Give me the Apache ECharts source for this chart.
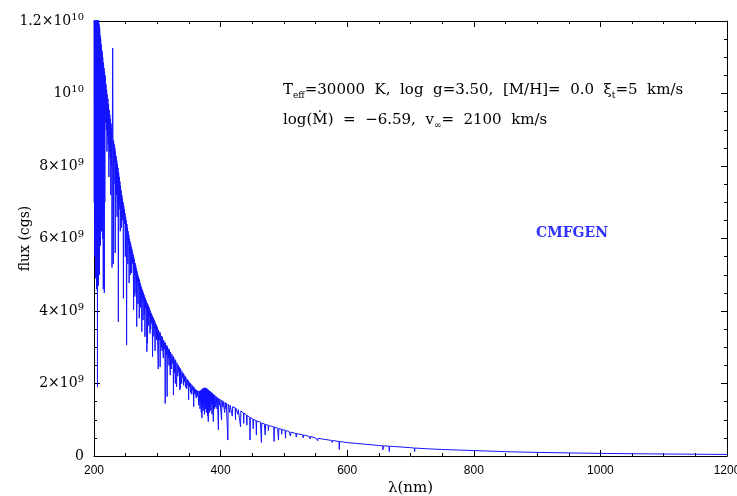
<!DOCTYPE html>
<html>
<head>
<meta charset="utf-8">
<script src="https://cdn.jsdelivr.net/npm/echarts@6/dist/echarts.min.js"></script>
<style>
  html, body { margin: 0; padding: 0; background: #fff; }
  #chart { width: 737px; height: 496px; }
</style>
</head>
<body>
<div id="chart"></div>
<script>
// spectrum: [wavelength nm, flux in 1e9 cgs]
const uvSpectrum = [
  [200.0, 13.2], [200.4, 7.0], [200.8, 12.8], [201.2, 5.5], [201.6, 13.0], [202.0, 6.5], [202.4, 12.9],
  [202.6, 4.9], [202.9, 12.8], [203.3, 6.0], [203.7, 12.7], [204.0, 4.6], [204.4, 12.6], [204.8, 6.8],
  [205.2, 12.5], [205.5, 1.9], [205.8, 12.4], [206.2, 5.8], [206.6, 12.2], [207.0, 4.7], [207.4, 12.1],
  [207.8, 6.2], [208.2, 11.9], [208.6, 5.0], [209.0, 11.8], [209.4, 6.5], [209.8, 11.6], [210.2, 5.8],
  [210.6, 11.5], [211.0, 6.8], [211.4, 11.35], [211.8, 6.2], [212.2, 11.2], [212.6, 7.0], [213.0, 11.15],
  [213.4, 6.0], [213.8, 11.0], [214.2, 6.9], [214.7, 4.6], [215.1, 10.85], [215.5, 6.5], [215.9, 10.7],
  [216.3, 4.5], [216.7, 10.6], [217.1, 7.0], [217.5, 10.5],
  [218, 10.4], [218.5, 9.2], [219, 10.25], [219.5, 9.0], [220, 10.1], [220.5, 8.4], [221, 9.97], [221.5, 8.8],
  [222, 9.85], [222.5, 8.6], [223, 9.7], [223.5, 7.7], [224, 9.55], [224.5, 8.4], [225, 9.42], [225.5, 8.2],
  [226, 9.3], [226.5, 7.2], [227, 9.17], [227.5, 8.0], [228, 9.05], [228.5, 5.2], [229, 8.92], [229.5, 11.25],
  [230, 8.8], [230.5, 5.3], [231, 8.7], [231.5, 7.5], [232, 8.6], [232.5, 8.1], [233, 8.5], [233.5, 5.6],
  [234, 8.4], [234.5, 7.3], [235, 8.27], [235.5, 7.2], [236, 8.15], [236.5, 6.6], [237, 8.05], [237.5, 7.0],
  [238, 7.95], [238.5, 3.7], [239, 7.82], [239.5, 6.8], [240, 7.7], [240.5, 6.9], [241, 7.57], [241.5, 6.2],
  [242, 7.45], [242.5, 6.7], [243, 7.32], [243.5, 6.3], [244, 7.2], [244.5, 6.5], [245, 7.1], [245.5, 6.6],
  [246, 7.0], [246.5, 4.35], [247, 6.9], [247.5, 6.5], [248, 6.8], [248.5, 6.4], [249, 6.7], [249.5, 5.5],
  [250, 6.6], [250.5, 6.2], [251, 6.5], [251.5, 3.06], [252, 6.4], [252.5, 6.0], [253, 6.3], [253.5, 5.3],
  [254, 6.2], [254.5, 5.85], [255, 6.1], [255.5, 4.77], [256, 6.0], [256.5, 5.65], [257, 5.92], [257.5, 5.0],
  [258, 5.85], [258.5, 5.5], [259, 5.77], [259.5, 5.05], [260, 5.7], [260.5, 5.35], [261, 5.62], [261.5, 5.3],
  [262, 5.55], [262.5, 4.03], [263, 5.47], [263.5, 5.15], [264, 5.4], [264.5, 4.4], [265, 5.32], [265.5, 5.0],
  [266, 5.25], [266.5, 4.5], [267, 5.17], [267.5, 3.57], [268, 5.1], [268.5, 4.8], [269, 5.02], [269.5, 4.2],
  [270, 4.95], [270.5, 4.7], [271, 4.9], [271.5, 3.8], [272, 4.85], [272.5, 4.6], [273, 4.77], [273.5, 4.1],
  [274, 4.7], [274.5, 4.45], [275, 4.65], [275.5, 3.43], [276, 4.6], [276.5, 4.35], [277, 4.55], [277.5, 3.75],
  [278, 4.5], [278.5, 4.25], [279, 4.45], [279.5, 3.9], [280, 4.4], [280.5, 3.29], [281, 4.35], [281.5, 4.1],
  [282, 4.3], [282.5, 4.05], [283, 4.26], [283.5, 2.88], [284, 4.22], [284.5, 3.11], [285, 4.18], [285.5, 3.92],
  [286, 4.14], [286.5, 3.6], [287, 4.1], [287.5, 3.85], [288, 4.05], [288.5, 3.38], [289, 4.0], [289.5, 3.5],
  [290, 3.95], [290.5, 3.72], [291, 3.91], [291.5, 3.65], [292, 3.87], [292.5, 2.74], [293, 3.83], [293.5, 3.6],
  [294, 3.8], [294.5, 3.3], [295, 3.76], [295.5, 3.52], [296, 3.72], [296.5, 2.9], [297, 3.67], [297.5, 3.45],
  [298, 3.63], [298.5, 3.2], [299, 3.59], [299.5, 3.35]
];

const nearUvSpectrum = [
  [300, 3.55], [301, 3.52], [301.5, 2.4], [302, 3.48], [303, 3.2], [304, 3.42], [304.5, 2.46], [305, 3.38],
  [306, 3.35], [306.5, 3.0], [307, 3.31], [307.5, 2.9], [308, 3.28], [309, 3.24], [309.5, 2.7], [310, 3.2],
  [311, 3.17], [311.5, 2.95], [312, 3.14], [312.5, 1.45], [313, 3.11], [314, 3.08], [314.5, 2.8], [315, 3.05],
  [315.5, 1.64], [316, 3.02], [317, 2.99], [317.5, 2.7], [318, 2.96], [318.5, 2.5], [319, 2.93], [320, 2.9],
  [320.5, 2.23], [321, 2.87], [322, 2.84], [322.5, 2.4], [323, 2.81], [324, 2.78], [324.5, 2.55], [325, 2.75],
  [325.5, 1.68], [326, 2.72], [327, 2.69], [327.5, 2.3], [328, 2.66], [328.5, 2.0], [329, 2.63], [330, 2.6],
  [330.5, 1.91], [331, 2.57], [332, 2.54], [332.5, 2.2], [333, 2.51], [334, 2.48], [334.5, 2.3], [335, 2.45],
  [335.5, 1.82], [336, 2.42], [336.5, 1.87], [337, 2.39], [338, 2.36], [338.5, 2.0], [339, 2.33], [340, 2.3],
  [340.5, 2.15], [341, 2.28], [341.5, 1.95], [342, 2.25], [343, 2.22], [343.5, 2.05], [344, 2.2], [344.5, 1.9],
  [345, 2.17], [346, 2.15], [346.5, 1.85], [347, 2.12], [348, 2.1], [348.5, 1.95], [349, 2.08], [349.5, 1.55],
  [350, 2.05], [351, 2.03], [351.5, 1.9], [352, 2.01], [352.5, 1.75], [353, 1.99], [354, 1.97], [354.5, 1.7],
  [355, 1.95], [356, 1.93], [356.5, 1.8], [357, 1.91], [357.5, 1.36], [358, 1.89], [359, 1.87], [359.5, 1.7],
  [360, 1.85], [361, 1.83], [361.5, 1.6], [362, 1.82], [363, 1.81], [363.5, 1.65], [364, 1.8], [365, 1.79],
  [365.5, 1.4], [366, 1.79], [366.5, 1.5], [367, 1.79], [367.5, 1.3], [368, 1.8], [368.5, 1.45], [369, 1.81],
  [369.5, 1.2], [370, 1.83], [370.5, 1.05], [371, 1.84], [371.5, 1.35], [372, 1.86], [372.5, 1.25], [373, 1.87],
  [373.5, 1.4], [374, 1.88], [374.5, 1.15], [375, 1.88], [375.5, 1.45], [376, 1.88], [376.5, 1.3], [377, 1.87],
  [377.5, 1.2], [378, 1.86], [378.5, 1.4], [379, 1.85], [379.5, 1.1], [380, 1.83], [380.5, 0.95], [381, 1.82],
  [381.5, 1.35], [382, 1.8], [382.5, 1.2], [383, 1.79], [383.5, 1.4], [384, 1.77], [384.5, 1.25], [385, 1.76],
  [385.5, 1.45], [386, 1.74], [386.5, 1.15], [387, 1.73], [387.5, 1.4], [388, 1.71], [388.5, 0.95], [389, 1.7],
  [389.5, 1.45], [390, 1.68], [390.5, 1.3], [391, 1.67], [392, 1.65], [392.5, 1.35], [393, 1.64], [394, 1.62],
  [394.5, 1.3], [395, 1.61], [396, 1.6], [396.5, 0.72], [397, 1.59], [398, 1.58], [398.5, 1.4], [399, 1.57],
  [400, 1.56], [401, 1.55], [401.5, 0.99], [402, 1.54], [403, 1.53], [403.5, 1.35], [404, 1.51], [405, 1.5],
  [406, 1.49], [406.5, 1.2], [407, 1.48], [408, 1.47], [408.5, 1.3], [409, 1.46], [410, 1.45], [411, 1.44],
  [411.5, 0.44], [412, 1.43], [413, 1.42], [414, 1.41], [414.5, 1.2], [415, 1.4], [416, 1.39], [417, 1.38],
  [418, 1.37], [418.5, 1.1], [419, 1.36], [420, 1.36]
];

const visSpectrum = [
  [421, 1.35], [422, 1.34], [423, 1.33], [423.5, 1.0], [424, 1.32], [425, 1.31], [427, 1.29], [427.5, 1.15],
  [428, 1.28], [430, 1.26], [431, 1.25], [431.5, 0.81], [432, 1.24], [434, 1.21], [435, 1.2], [436, 1.19],
  [436.5, 0.9], [437, 1.18], [440, 1.14], [441, 1.13], [441.5, 0.85], [442, 1.12], [445, 1.08], [446, 1.07],
  [446.5, 0.44], [447, 1.06], [450, 1.03], [451, 1.02], [451.5, 0.75], [452, 1.01], [455, 0.99], [456, 0.98],
  [456.5, 0.58], [457, 0.97], [460, 0.95], [463, 0.93], [464, 0.92], [464.5, 0.37], [465, 0.91], [469, 0.89],
  [470, 0.88], [470.5, 0.58], [471, 0.87], [475, 0.85], [475.5, 0.7], [476, 0.84], [480, 0.82], [484, 0.8],
  [484.5, 0.4], [485, 0.8], [490, 0.77], [491, 0.76], [491.5, 0.44], [492, 0.76], [496, 0.74], [496.5, 0.6],
  [497, 0.73], [500, 0.72], [502, 0.71], [502.5, 0.49], [503, 0.7], [508, 0.68], [510, 0.67], [510.5, 0.55],
  [511, 0.66], [519, 0.62], [519.5, 0.52], [520, 0.62], [530, 0.58], [530.5, 0.5], [531, 0.58], [540, 0.54],
  [541, 0.54], [541.5, 0.47], [542, 0.54], [550, 0.5], [553, 0.49], [553.5, 0.42], [554, 0.49], [560, 0.47],
  [575, 0.43], [576, 0.43], [576.5, 0.37], [577, 0.43], [587, 0.4], [587.5, 0.18], [588, 0.4], [600, 0.37],
  [625, 0.33], [650, 0.29], [656, 0.28], [656.5, 0.17], [657, 0.28], [666, 0.27], [666.5, 0.12], [667, 0.27],
  [675, 0.26], [700, 0.23], [706, 0.22], [706.5, 0.12], [707, 0.22], [725, 0.2], [750, 0.18], [775, 0.165],
  [800, 0.15], [850, 0.12], [860, 0.115], [860.5, 0.07], [861, 0.115], [900, 0.1], [950, 0.085], [1000, 0.072],
  [1050, 0.063], [1100, 0.055], [1150, 0.049], [1200, 0.043]
];

// y tick labels (flux in units of 1e9)
const yTickValues = [0, 2, 4, 6, 8, 10, 12];
const yTickMantissa = ['0', '2×10', '4×10', '6×10', '8×10', '10', '1.2×10'];
const yTickExponent = ['', '9', '9', '9', '9', '10', '10'];

const serif = 'DejaVu Serif';
const sans = 'Liberation Sans';
const ink = '#000';
const blue = '#1414ff';

const chart = echarts.init(document.getElementById('chart'), null, { renderer: 'canvas' });

const axisCommon = {
  type: 'value',
  axisLine: { show: true, onZero: false, lineStyle: { color: ink, width: 1 } },
  axisTick: { show: true, inside: true, length: 6, lineStyle: { color: ink } },
  minorTick: { show: true, splitNumber: 4, length: 3, lineStyle: { color: ink } },
  splitLine: { show: false }
};

const option = {
  animation: false,
  backgroundColor: '#fff',
  grid: { left: 94, right: 10, top: 21, bottom: 40, containLabel: false, outerBoundsMode: 'none' },
  xAxis: [
    Object.assign({}, axisCommon, {
      position: 'bottom', min: 200, max: 1200, interval: 200,
      name: 'λ(nm)', nameLocation: 'middle', nameGap: 25, nameMoveOverlap: false,
      nameTextStyle: { fontFamily: serif, fontSize: 15, color: ink },
      axisLabel: { fontFamily: sans, fontSize: 12, color: ink, margin: 9, formatter: v => String(v) }
    }),
    Object.assign({}, axisCommon, {
      position: 'top', min: 200, max: 1200, interval: 200,
      axisLabel: { show: false }
    })
  ],
  yAxis: [
    Object.assign({}, axisCommon, {
      position: 'left', min: 0, max: 12, interval: 2,
      name: 'flux (cgs)', nameLocation: 'middle', nameGap: 62, nameMoveOverlap: false,
      nameTextStyle: { fontFamily: serif, fontSize: 14, color: ink },
      axisLabel: {
        color: ink, margin: 10,
        formatter: function (v) {
          const i = yTickValues.indexOf(v);
          if (i < 0) return '';
          return '{m|' + yTickMantissa[i] + '}' + (yTickExponent[i] ? '{e|' + yTickExponent[i] + '}' : '');
        },
        rich: {
          m: { fontFamily: serif, fontSize: 14, color: ink },
          e: { fontFamily: serif, fontSize: 10, color: ink, verticalAlign: 'bottom', padding: [0, 0, 8, 0] }
        }
      }
    }),
    Object.assign({}, axisCommon, {
      position: 'right', min: 0, max: 12, interval: 2,
      axisLabel: { show: false }
    })
  ],
  series: [{
    type: 'line',
    data: uvSpectrum.concat(nearUvSpectrum, visSpectrum),
    showSymbol: false,
    symbol: 'none',
    sampling: false,
    lineStyle: { color: blue, width: 1 },
    clip: true
  }],
  graphic: [
    {
      type: 'text', left: 283, top: 83,
      style: {
        text: 'T{s|eff}=30000  K,  log  g=3.50,  [M/H]=  0.0  ξ{s|t}=5  km/s',
        fontFamily: serif, fontSize: 15, fill: ink,
        rich: { s: { fontFamily: serif, fontSize: 9, fill: ink, verticalAlign: 'top', padding: [10, 0, 0, 0] } }
      }
    },
    {
      type: 'text', left: 283, top: 113,
      style: {
        text: 'log(Ṁ)  =  −6.59,  v{s|∞}=  2100  km/s',
        fontFamily: serif, fontSize: 15, fill: ink,
        rich: { s: { fontFamily: serif, fontSize: 9, fill: ink, verticalAlign: 'top', padding: [10, 0, 0, 0] } }
      }
    },
    {
      type: 'text', left: 536, top: 226,
      style: { text: 'CMFGEN', fontFamily: serif, fontSize: 14, fontWeight: 'bold', fill: '#3030ff' }
    }
  ]
};

chart.setOption(option);
</script>
</body>
</html>
